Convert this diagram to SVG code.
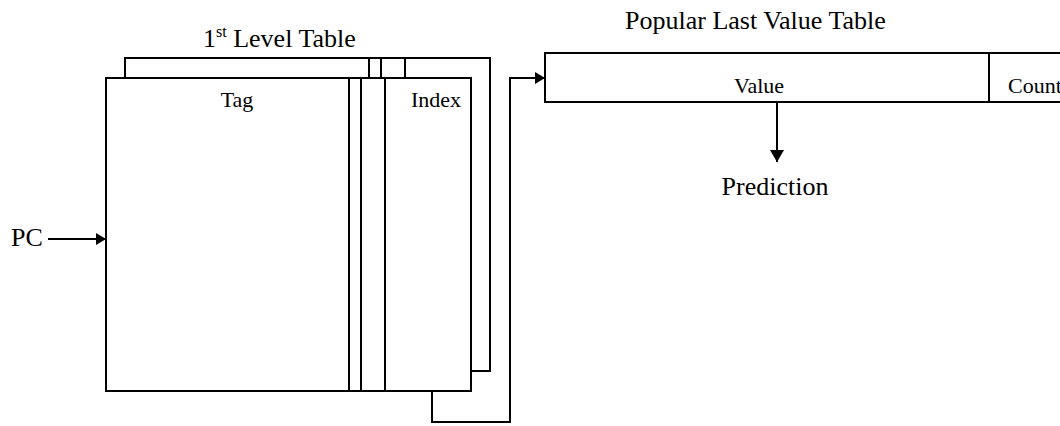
<svg xmlns="http://www.w3.org/2000/svg" width="1060" height="426" viewBox="0 0 1060 426">
<style>
.ln{fill:none;stroke:#000;stroke-width:2}
.bx{fill:#fff;stroke:#000;stroke-width:2}
.t{font-family:"Liberation Serif","Times New Roman",serif;fill:#000}
.big{font-size:26px}
.sm{font-size:22px}
</style>
<defs>
<marker id="ah" viewBox="0 0 10 12" refX="10" refY="6" markerWidth="10" markerHeight="12" markerUnits="userSpaceOnUse" orient="auto">
<path d="M0,0 L10,6 L0,12 z" fill="#000"/>
</marker>
<marker id="ahv" viewBox="0 0 12 14" refX="12" refY="7" markerWidth="12" markerHeight="14" markerUnits="userSpaceOnUse" orient="auto">
<path d="M0,0 L12,7 L0,14 z" fill="#000"/>
</marker>
</defs>
<rect width="1060" height="426" fill="#fff"/>
<g id="first-level-table">
<text class="t big" x="203" y="47">1<tspan font-size="16" dy="-10">st</tspan><tspan dy="10"> Level Table</tspan></text>
<g id="back-table">
<rect class="bx" x="125" y="58" width="365" height="313"/>
<line class="ln" x1="369" y1="58" x2="369" y2="78"/>
<line class="ln" x1="381" y1="58" x2="381" y2="78"/>
<line class="ln" x1="405" y1="58" x2="405" y2="78"/>
</g>
<g id="front-table">
<rect class="bx" x="106" y="78" width="365" height="313"/>
<line class="ln" x1="349" y1="78" x2="349" y2="391"/>
<line class="ln" x1="361" y1="78" x2="361" y2="391"/>
<line class="ln" x1="385" y1="78" x2="385" y2="391"/>
<text class="t sm" x="237" y="107" text-anchor="middle">Tag</text>
<text class="t sm" x="461" y="107" text-anchor="end">Index</text>
</g>
</g>
<g id="pc"><text class="t big" x="11" y="246">PC</text></g>
<g id="popular-last-value-table">
<text class="t big" x="625" y="29">Popular Last Value Table</text>
<rect class="bx" x="545" y="53" width="530" height="49"/>
<line class="ln" x1="989" y1="53" x2="989" y2="102"/>
<text class="t sm" x="759" y="93" text-anchor="middle">Value</text>
<text class="t sm" x="1008" y="93">Count</text>
</g>
<g id="prediction"><text class="t big" x="775" y="195" text-anchor="middle">Prediction</text></g>
<g id="connectors">
<line class="ln" x1="48" y1="239" x2="106" y2="239" marker-end="url(#ah)"/>
<polyline class="ln" points="432,391 432,422 510,422 510,78 545,78" marker-end="url(#ah)"/>
<line class="ln" x1="777" y1="102" x2="777" y2="162" marker-end="url(#ahv)"/>
</g>
</svg>
